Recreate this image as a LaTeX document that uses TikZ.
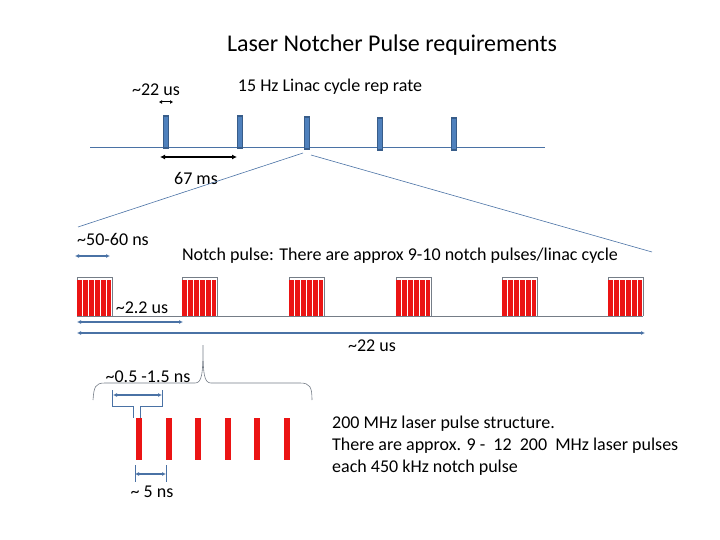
\documentclass[tikz,border=0pt]{standalone}
\usepackage{fontspec}
\setmainfont{Carlito}
\usetikzlibrary{arrows.meta}
\definecolor{sb}{RGB}{74,114,165}
\definecolor{bfill}{RGB}{79,129,189}
\definecolor{bdark}{RGB}{56,93,138}
\definecolor{rd}{RGB}{235,20,20}
\begin{document}
\begin{tikzpicture}[x=1pt,y=-1pt,
  lbl/.style={inner sep=0pt,font=\fontsize{18}{21}\selectfont},
  dim/.style={sb,line width=1.4pt,{Latex[length=4pt,width=4pt]}-{Latex[length=4pt,width=4pt]}},
  bdim/.style={black,line width=1.6pt,{Latex[length=5pt,width=5pt]}-{Latex[length=5pt,width=5pt]}},
  thin/.style={sb,line width=0.6pt},
  bar/.style={fill=bfill,draw=bdark,line width=1.2pt},
  rbar/.style={fill=rd,draw=none}]
\useasboundingbox (0,0) rectangle (720,540);
\node[lbl,font=\fontsize{24}{28}\selectfont] (title) at (392,45) {Laser Notcher Pulse requirements};
\node[lbl] (rep) at (330,87) {15 Hz Linac cycle rep rate};
\node[lbl] (t22) at (156,90) {\textasciitilde22 us};
\coordinate (s1) at (159,102); \coordinate (s2) at (173,102);
\draw[bdim,line width=1pt,{Latex[length=3pt,width=4pt]}-{Latex[length=3pt,width=4pt]}] (s1) -- (s2);
\coordinate (bl) at (90,147); \coordinate (br) at (545,147);
\draw[thin] (bl) -- (br);
\foreach \x/\t in {166/116,240/116,307/117,380/118,454/118}
  \draw[bar] (\x-2.5,\t) rectangle (\x+2.5,\t+32);
\coordinate (m1) at (160,157); \coordinate (m2) at (237,157);
\draw[bdim] (m1) -- (m2);
\node[lbl] (ms) at (196,178) {67 ms};
\coordinate (z0) at (303,153); \coordinate (z1) at (78,227);
\coordinate (z2) at (311,155); \coordinate (z3) at (652,252);
\draw[thin] (z0) -- (z1); \draw[thin] (z2) -- (z3);
\node[lbl] (n5060) at (113,239) {\textasciitilde50-60 ns};
\coordinate (a1) at (75,256); \coordinate (a2) at (110,256);
\draw[dim] (a1) -- (a2);
\node[lbl] (notch) at (400,256) {Notch pulse: There are approx 9-10 notch pulses/linac cycle};
% notch groups
\coordinate (g0) at (77,316); \coordinate (g1) at (643,316);
\draw[thin,gray!80!sb] (g0) -- (g1);
\foreach \g in {77,182,289,396,502,608}{
  \draw[thin,gray!80!sb] (\g,316) -- (\g,277) -- (\g+35,277) -- (\g+35,316);
  \foreach \k in {0,...,5}
    \fill[rd] (\g+\k*5.9,280) rectangle (\g+\k*5.9+4.9,316);
}
\node[lbl] (t22b) at (142,308) {\textasciitilde2.2 us};
\coordinate (c1) at (77,322); \coordinate (c2) at (183,322);
\draw[dim] (c1) -- (c2);
\coordinate (d1) at (77,333); \coordinate (d2) at (645,333);
\draw[dim] (d1) -- (d2);
\node[lbl] (t22c) at (372,346) {\textasciitilde22 us};
% brace
\coordinate (bt) at (203,345);
\draw[thin,gray!80!sb] (93,400) .. controls (94,387) and (95,383) .. (105,383)
  -- (195,383) .. controls (202,383) and (203,374) .. (bt)
  .. controls (203,374) and (204,383) .. (211,383) -- (300,383)
  .. controls (310,383) and (312,387) .. (312,400);
\node[lbl] (t05) at (148,377) {\textasciitilde0.5 -1.5 ns};
\coordinate (e1) at (113,395); \coordinate (e2) at (162,395);
\draw[dim] (e1) -- (e2);
\draw[thin] (112,390) -- (112,406) -- (133,406) -- (133,418);
\draw[thin] (162,390) -- (162,406) -- (140,406) -- (140,418);
\foreach \k in {0,...,5}
  \fill[rd] (136+\k*29.5,418) rectangle (142+\k*29.5,460);
\coordinate (f1) at (135,474); \coordinate (f2) at (166,474);
\draw[thin] (135,465) -- (135,482); \draw[thin] (166,465) -- (166,482);
\draw[dim] (f1) -- (f2);
\node[lbl] (t5) at (152,492) {\textasciitilde\ 5 ns};
\node[lbl,anchor=north west,align=left,font=\fontsize{18}{22}\selectfont] (desc) at (332,416)
  {200 MHz laser pulse structure.\\There are approx. 9 -\ \ 12\ \ 200\ \ MHz laser pulses\\each 450 kHz notch pulse};
\end{tikzpicture}
\end{document}
